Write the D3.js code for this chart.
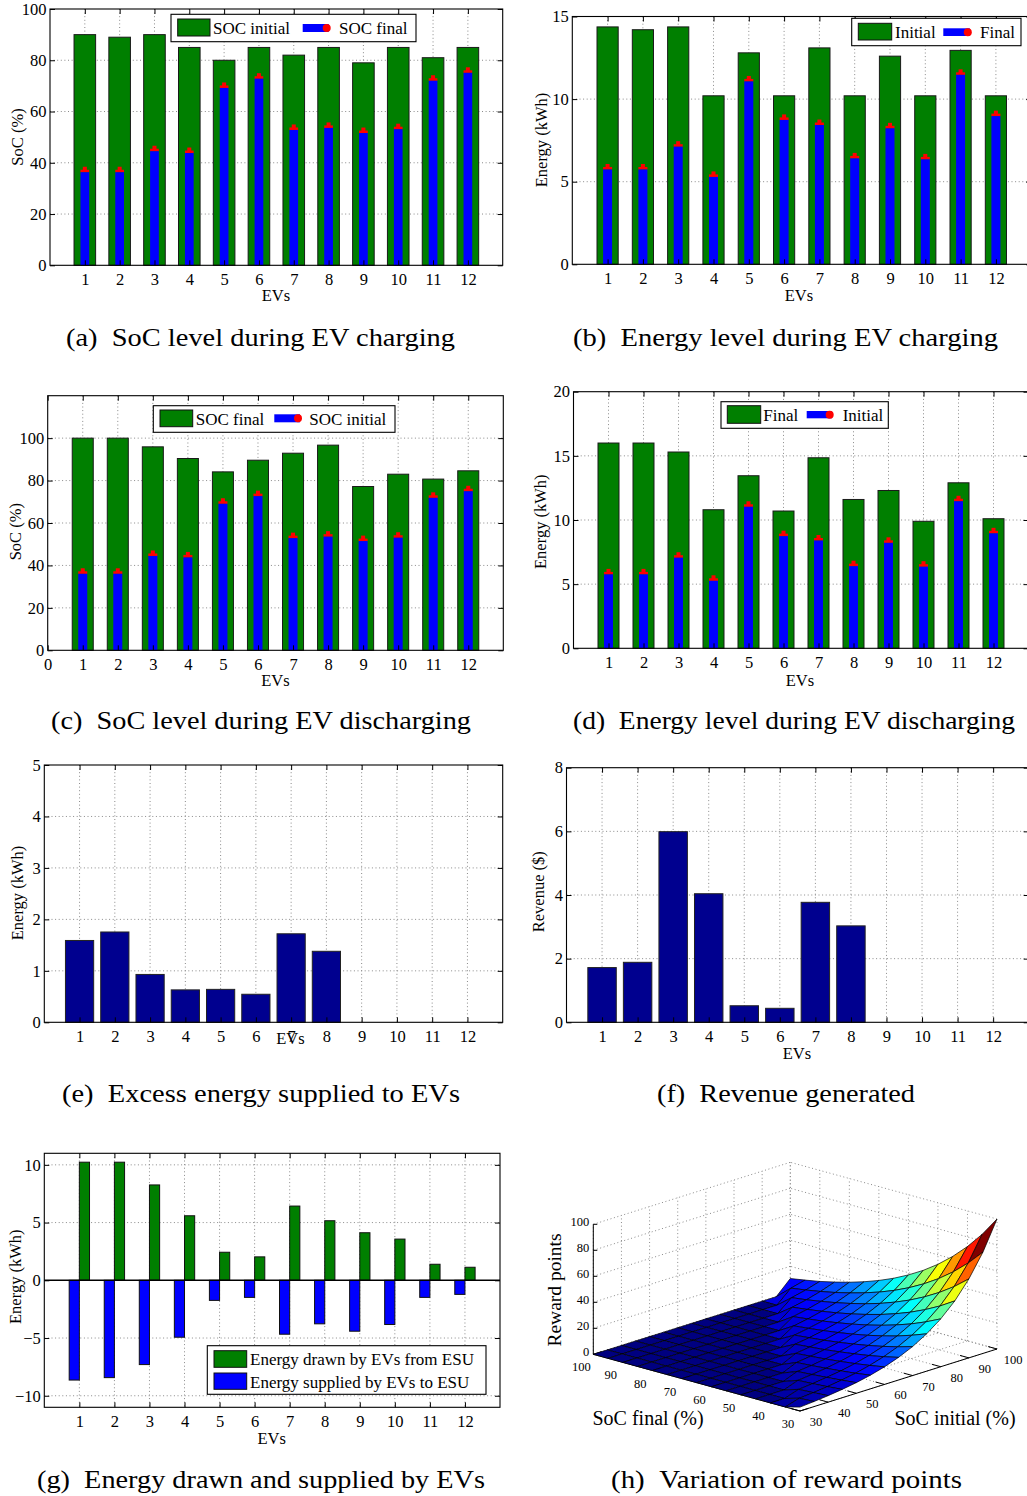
<!DOCTYPE html>
<html><head><meta charset="utf-8">
<script src="https://cdn.jsdelivr.net/npm/d3@7"></script>
<style>body{margin:0;background:#fff} svg text{font-family:'Liberation Serif','Times New Roman',serif}</style></head>
<body><script>
// ---------------- DATA ----------------
const evs = [1,2,3,4,5,6,7,8,9,10,11,12];
const xTicks = [1,2,3,4,5,6,7,8,9,10,11,12];
const xTicksWithZero = [0,1,2,3,4,5,6,7,8,9,10,11,12];
// (a) SoC during charging
const socInitialCharging = [90, 89, 90, 85, 80, 85, 82, 85, 79, 85, 81, 85];
const socFinalCharging   = [36.5, 36.5, 44.7, 44, 69.4, 73, 53, 53.8, 51.8, 53.3, 72.2, 75.3];
const socTicksA = [0,20,40,60,80,100];
// (b) Energy during charging
const energyInitialCharging = [14.37, 14.2, 14.37, 10.2, 12.8, 10.2, 13.1, 10.2, 12.6, 10.2, 12.95, 10.2];
const energyFinalCharging   = [5.77, 5.77, 7.15, 5.32, 11.1, 8.77, 8.46, 6.44, 8.26, 6.38, 11.5, 9.0];
const energyTicksB = [0,5,10,15];
// (c) SoC during discharging
const socFinalDischarging   = [100, 100, 95.9, 90.4, 84.1, 89.6, 92.9, 96.7, 77.2, 83.0, 80.7, 84.6];
const socInitialDischarging = [36.3, 36.3, 44.7, 44, 69.3, 72.9, 53.1, 53.8, 51.7, 53.3, 72.1, 75.2];
const socTicksC = [0,20,40,60,80,100];
// (d) Energy during discharging
const energyFinalDischarging   = [16.0, 16.0, 15.3, 10.8, 13.45, 10.7, 14.85, 11.6, 12.3, 9.9, 12.9, 10.1];
const energyInitialDischarging = [5.8, 5.8, 7.1, 5.3, 11.07, 8.78, 8.44, 6.44, 8.26, 6.4, 11.5, 9.0];
const energyTicksD = [0,5,10,15,20];
// (e) Excess energy
const excessEnergy = [1.59, 1.755, 0.93, 0.63, 0.64, 0.545, 1.72, 1.38, 0, 0, 0, 0];
const energyTicksE = [0,1,2,3,4,5];
// (f) Revenue
const revenue = [1.72, 1.885, 5.99, 4.04, 0.52, 0.44, 3.77, 3.03, 0, 0, 0, 0];
const revenueTicks = [0,2,4,6,8];
// (g) Energy drawn / supplied
const energyDrawn    = [10.23, 10.23, 8.26, 5.59, 2.43, 2.03, 6.43, 5.16, 4.12, 3.57, 1.39, 1.13];
const energySupplied = [-8.64, -8.43, -7.3, -4.93, -1.74, -1.48, -4.67, -3.77, -4.41, -3.83, -1.48, -1.22];
const energyTicksG = [-10,-5,0,5,10];
// (h) Reward points surface: rows = SoC final, cols = SoC initial
const rewardSocFinal   = [30,35,40,45,50,55,60,65,70,75,80,85,90,95,100];
const rewardSocInitial = [30,35,40,45,50,55,60,65,70,75,80,85,90,95,100];
const rewardTicks = [30,40,50,60,70,80,90,100];
const rewardZTicks = [0,20,40,60,80,100];
const rewardPoints = [
 [3.0,3.9,5.0,6.4,8.2,10.5,13.5,17.4,22.3,28.7,36.8,47.2,60.7,77.9,100.0],
 [0,3.3,4.2,5.4,7.0,8.9,11.5,14.8,19.0,24.5,31.4,40.2,51.7,66.4,85.2],
 [0,0,3.6,4.6,6.0,7.6,9.8,12.6,16.2,20.8,26.7,34.3,44.1,56.6,72.6],
 [0,0,0,4.0,5.1,6.5,8.4,10.8,13.8,17.8,22.8,29.2,37.6,48.2,61.9],
 [0,0,0,0,4.3,5.5,7.1,9.2,11.8,15.1,19.4,24.9,32.0,41.1,52.7],
 [0,0,0,0,0,4.7,6.1,7.8,10.0,12.9,16.5,21.2,27.3,35.0,44.9],
 [0,0,0,0,0,0,5.2,6.7,8.5,11.0,14.1,18.1,23.2,29.8,38.3],
 [0,0,0,0,0,0,0,5.7,7.3,9.4,12.0,15.4,19.8,25.4,32.6],
 [0,0,0,0,0,0,0,0,6.2,8.0,10.2,13.1,16.9,21.7,27.8],
 [0,0,0,0,0,0,0,0,0,6.8,8.7,11.2,14.4,18.5,23.7],
 [0,0,0,0,0,0,0,0,0,0,7.4,9.5,12.3,15.7,20.2],
 [0,0,0,0,0,0,0,0,0,0,0,8.1,10.4,13.4,17.2],
 [0,0,0,0,0,0,0,0,0,0,0,0,8.9,11.4,14.6],
 [0,0,0,0,0,0,0,0,0,0,0,0,0,9.7,12.5],
 [0,0,0,0,0,0,0,0,0,0,0,0,0,0,10.6]
];

// ---------------- STYLE ----------------
const FONT = "'Liberation Serif','Times New Roman',serif";
const GREEN = "#007f00", BLUE = "#0000ff", NAVY = "#00008f", RED = "#ff0000";
const GRID_STROKE = "#8a8a8a", GRID_DASH = "1,2.6";

const svg = d3.select("body").append("svg")
  .attr("width", 1027).attr("height", 1496)
  .style("background", "#fff")
  .attr("font-family", FONT);
svg.append("rect").attr("width",1027).attr("height",1496).attr("fill","#fff");

const fmt = d => d < 0 ? "\u2212" + Math.abs(d) : String(d);

function panel(o) {
  const x = d3.scaleLinear().domain([0, 13]).range([o.left, o.right]);
  const y = d3.scaleLinear().domain(o.yDomain).range([o.bottom, o.top]);
  const g = svg.append("g");
  const grid = g.append("g").attr("stroke", GRID_STROKE).attr("stroke-dasharray", GRID_DASH).attr("stroke-width", 1);
  grid.selectAll("line.h").data(o.yTicks.filter(t => t > o.yDomain[0] && t < o.yDomain[1] && !(o.zeroLine && t === 0)))
    .join("line").attr("class","h")
    .attr("x1", o.left).attr("x2", o.right).attr("y1", d => y(d)).attr("y2", d => y(d));
  grid.selectAll("line.v").data(o.xTicks.filter(t => t > 0))
    .join("line").attr("class","v")
    .attr("x1", d => x(d)).attr("x2", d => x(d)).attr("y1", o.top).attr("y2", o.bottom);
  const bars = g.append("g");
  const axes = g.append("g");
  return { x, y, g, bars, axes, o };
}

function finish(p) {
  const { x, y, axes, o } = p;
  if (o.zeroLine) {
    axes.append("line").attr("x1", o.left).attr("x2", o.right)
      .attr("y1", y(0)).attr("y2", y(0)).attr("stroke", "#000").attr("stroke-width", 1.6);
  }
  const bx = axes.append("g").attr("transform", `translate(0,${o.bottom})`)
    .call(d3.axisBottom(x).tickValues(o.xTicks).tickSizeInner(-5).tickSizeOuter(0).tickPadding(7.5).tickFormat(fmt));
  const ly = axes.append("g").attr("transform", `translate(${o.left},0)`)
    .call(d3.axisLeft(y).tickValues(o.yTicks).tickSizeInner(-5).tickSizeOuter(0).tickPadding(3.5).tickFormat(fmt));
  const tx = axes.append("g").attr("transform", `translate(0,${o.top})`)
    .call(d3.axisTop(x).tickValues(o.xTicks).tickSizeInner(-5).tickSizeOuter(0).tickFormat(""));
  const ry = axes.append("g").attr("transform", `translate(${o.right},0)`)
    .call(d3.axisRight(y).tickValues(o.yTicks).tickSizeInner(-5).tickSizeOuter(0).tickFormat(""));
  [bx, ly, tx, ry].forEach(a => {
    a.select(".domain").remove();
    a.selectAll("text").attr("font-family", FONT).attr("font-size", 16.5).attr("fill", "#000");
    a.selectAll("line").attr("stroke", "#000");
  });
  axes.append("rect").attr("x", o.left).attr("y", o.top)
    .attr("width", o.right - o.left).attr("height", o.bottom - o.top)
    .attr("fill", "none").attr("stroke", "#000").attr("stroke-width", 1.1);
  axes.append("text").attr("transform", `translate(${o.ylab[0]},${o.ylab[1]}) rotate(-90)`)
    .attr("text-anchor", "middle").attr("dominant-baseline", "central")
    .attr("font-size", 16.5).text(o.ylabel);
  axes.append("text").attr("x", o.xlab[0]).attr("y", o.xlab[1])
    .attr("text-anchor", "middle").attr("font-size", 16.5).text("EVs");
}

function groupedPanel(o, big, small) {
  const p = panel(o);
  const { x, y, bars } = p;
  const wBig = x(o.bigW) - x(0), wSmall = x(o.smallW) - x(0);
  bars.selectAll("rect.big").data(evs).join("rect").attr("class", "big")
    .attr("x", (d) => x(d) - wBig / 2).attr("width", wBig)
    .attr("y", (d, i) => y(big[i])).attr("height", (d, i) => y(0) - y(big[i]))
    .attr("fill", GREEN).attr("stroke", "#1a1a1a").attr("stroke-width", 1);
  bars.selectAll("rect.redcap").data(evs).join("rect").attr("class", "redcap")
    .attr("x", (d) => x(d) - wSmall / 2).attr("width", wSmall)
    .attr("y", (d, i) => y(small[i]) - 2).attr("height", 2.6).attr("fill", RED);
  bars.selectAll("rect.redbump").data(evs).join("rect").attr("class", "redbump")
    .attr("x", (d) => x(d) - 2).attr("width", 4)
    .attr("y", (d, i) => y(small[i]) - 5).attr("height", 4).attr("fill", RED);
  bars.selectAll("rect.small").data(evs).join("rect").attr("class", "small")
    .attr("x", (d) => x(d) - wSmall / 2).attr("width", wSmall)
    .attr("y", (d, i) => y(small[i]) + 0.5).attr("height", (d, i) => y(0) - y(small[i]) - 0.5)
    .attr("fill", BLUE);
  finish(p);
  return p;
}

function singlePanel(o, vals) {
  const p = panel(o);
  const { x, y, bars } = p;
  const w = x(0.8) - x(0);
  bars.selectAll("rect").data(evs.filter((d, i) => vals[i] > 0)).join("rect")
    .attr("x", d => x(d) - w / 2).attr("width", w)
    .attr("y", d => y(vals[d - 1])).attr("height", d => y(0) - y(vals[d - 1]))
    .attr("fill", NAVY).attr("stroke", "#222").attr("stroke-width", 1);
  finish(p);
  return p;
}

function legend(b, items) {
  const g = svg.append("g");
  g.append("rect").attr("x", b[0]).attr("y", b[1]).attr("width", b[2]).attr("height", b[3])
    .attr("fill", "#fff").attr("stroke", "#000").attr("stroke-width", 1.1);
  items.forEach(it => {
    if (it.kind === "green" || it.kind === "blueRect") {
      g.append("rect").attr("x", it.sx).attr("y", it.sy).attr("width", it.sw).attr("height", it.sh)
        .attr("fill", it.kind === "green" ? GREEN : BLUE).attr("stroke", "#111").attr("stroke-width", 1);
    } else {
      g.append("rect").attr("x", it.sx).attr("y", it.sy).attr("width", it.sw).attr("height", it.sh).attr("fill", BLUE);
      g.append("circle").attr("cx", it.sx + it.sw - 2).attr("cy", it.sy + it.sh / 2).attr("r", 4).attr("fill", RED);
    }
    g.append("text").attr("x", it.tx).attr("y", it.ty).attr("font-size", it.fs || 17)
      .attr("dominant-baseline", "central").text(it.label);
  });
}

// (a)
groupedPanel({ left: 50, right: 502.7, top: 9, bottom: 265.3, yDomain: [0, 100], yTicks: socTicksA, xTicks,
  bigW: 0.62, smallW: 0.25, ylabel: "SoC (%)", ylab: [17, 137], xlab: [276, 301] },
  socInitialCharging, socFinalCharging);
legend([171, 14.3, 245, 27.4], [
  { kind: "green", sx: 177.7, sy: 19, sw: 32.3, sh: 17, tx: 213, ty: 28.5, label: "SOC initial" },
  { kind: "blueDot", sx: 302.7, sy: 24, sw: 26, sh: 8, tx: 339, ty: 28.5, label: "SOC final" }]);

// (b)
groupedPanel({ left: 572.3, right: 1031.2, top: 16.5, bottom: 264.3, yDomain: [0, 15], yTicks: energyTicksB, xTicks,
  bigW: 0.6, smallW: 0.255, ylabel: "Energy (kWh)", ylab: [541, 140], xlab: [799, 301] },
  energyInitialCharging, energyFinalCharging);
legend([851.7, 18.3, 169.3, 27.4], [
  { kind: "green", sx: 858.3, sy: 23.3, sw: 33.4, sh: 16.7, tx: 895, ty: 32.5, label: "Initial" },
  { kind: "blueDot", sx: 943.3, sy: 28.3, sw: 26.5, sh: 7.7, tx: 980, ty: 32.5, label: "Final" }]);

// (c)
groupedPanel({ left: 47.7, right: 503.3, top: 395.7, bottom: 650.3, yDomain: [0, 120], yTicks: socTicksC, xTicks: xTicksWithZero,
  bigW: 0.6, smallW: 0.257, ylabel: "SoC (%)", ylab: [15, 531.7], xlab: [275.5, 686] },
  socFinalDischarging, socInitialDischarging);
legend([153.3, 405.7, 241.7, 26.6], [
  { kind: "green", sx: 160, sy: 410, sw: 32.7, sh: 16.7, tx: 195.7, ty: 419.5, label: "SOC final" },
  { kind: "blueDot", sx: 274.3, sy: 414.3, sw: 25.7, sh: 8, tx: 309.3, ty: 419.5, label: "SOC initial" }]);

// (d)
groupedPanel({ left: 573.5, right: 1028.5, top: 391.7, bottom: 648.3, yDomain: [0, 20], yTicks: energyTicksD, xTicks,
  bigW: 0.6, smallW: 0.255, ylabel: "Energy (kWh)", ylab: [540, 521.7], xlab: [800, 686] },
  energyFinalDischarging, energyInitialDischarging);
legend([721, 401.7, 167.3, 26.6], [
  { kind: "green", sx: 727.3, sy: 405.7, sw: 33.4, sh: 17.6, tx: 763.3, ty: 415, label: "Final" },
  { kind: "blueDot", sx: 806.7, sy: 411, sw: 25, sh: 7.3, tx: 842.7, ty: 415, label: "Initial" }]);

// (e)
singlePanel({ left: 44.3, right: 502.7, top: 765, bottom: 1022.3, yDomain: [0, 5], yTicks: energyTicksE, xTicks,
  ylabel: "Energy (kWh)", ylab: [17.5, 893], xlab: [290.5, 1044] }, excessEnergy);

// (f)
singlePanel({ left: 566.5, right: 1028.7, top: 767.7, bottom: 1022.3, yDomain: [0, 8], yTicks: revenueTicks, xTicks,
  ylabel: "Revenue ($)", ylab: [538.5, 891.7], xlab: [797, 1059] }, revenue);

// (g)
(function () {
  const o = { left: 44.3, right: 500, top: 1153.3, bottom: 1407.3, yDomain: [-11, 11], yTicks: energyTicksG, xTicks,
    zeroLine: true, ylabel: "Energy (kWh)", ylab: [15, 1276.7], xlab: [271.7, 1444] };
  const p = panel(o);
  const { x, y, bars } = p;
  const w = x(0.29) - x(0), off = 0.145;
  bars.selectAll("rect.dr").data(evs).join("rect").attr("class", "dr")
    .attr("x", d => x(d + off) - w / 2).attr("width", w)
    .attr("y", (d, i) => y(energyDrawn[i])).attr("height", (d, i) => y(0) - y(energyDrawn[i]))
    .attr("fill", GREEN).attr("stroke", "#111").attr("stroke-width", 1);
  bars.selectAll("rect.su").data(evs).join("rect").attr("class", "su")
    .attr("x", d => x(d - off) - w / 2).attr("width", w)
    .attr("y", y(0)).attr("height", (d, i) => y(energySupplied[i]) - y(0))
    .attr("fill", BLUE).attr("stroke", "#111").attr("stroke-width", 1);
  finish(p);
  legend([207.3, 1345.7, 278.7, 48.6], [
    { kind: "green", sx: 214, sy: 1350.7, sw: 32.7, sh: 16.6, tx: 250, ty: 1359.5, label: "Energy drawn by EVs from ESU" },
    { kind: "blueRect", sx: 214, sy: 1373, sw: 32.7, sh: 16.3, tx: 250, ty: 1382, label: "Energy supplied by EVs to ESU" }]);
})();

// (h) 3D surface
(function () {
  const Lc = [593.3, 1354.3], Bc = [800, 1411], Rc = [997, 1349];
  const uS = d3.scaleLinear().domain([30, 100]).range([0, 1]);
  const zPx = d3.scaleLinear().domain([0, 100]).range([0, 130]);
  const jet = d3.scaleLinear().domain([0, 12.5, 37.5, 62.5, 87.5, 100])
    .range(["#000080", "#0000ff", "#00ffff", "#ffff00", "#ff0000", "#800000"]);
  const P = (f, i, z) => {
    const u = uS(f), v = uS(i);
    return [Bc[0] + u * (Lc[0] - Bc[0]) + v * (Rc[0] - Bc[0]),
            Bc[1] + u * (Lc[1] - Bc[1]) + v * (Rc[1] - Bc[1]) - zPx(z)];
  };
  const g = svg.append("g");
  const grid = g.append("g").attr("stroke", GRID_STROKE).attr("stroke-dasharray", GRID_DASH).attr("stroke-width", 1).attr("fill", "none");
  const seg = (a, b) => grid.append("line").attr("x1", a[0]).attr("y1", a[1]).attr("x2", b[0]).attr("y2", b[1]);
  rewardTicks.forEach(t => {
    seg(P(100, t, 0), P(100, t, 100));
    seg(P(t, 100, 0), P(t, 100, 100));
    seg(P(t, 30, 0), P(t, 100, 0));
    seg(P(30, t, 0), P(100, t, 0));
  });
  rewardZTicks.forEach(z => {
    seg(P(100, 30, z), P(100, 100, z));
    seg(P(30, 100, z), P(100, 100, z));
  });
  const ax = g.append("g").attr("stroke", "#000").attr("stroke-width", 1);
  const line = (a, b) => ax.append("line").attr("x1", a[0]).attr("y1", a[1]).attr("x2", b[0]).attr("y2", b[1]);
  line(P(100, 30, 0), P(100, 30, 100));
  line(P(100, 30, 0), P(30, 30, 0));
  line(P(30, 30, 0), P(30, 100, 0));
  rewardZTicks.forEach(z => { const a = P(100, 30, z); line(a, [a[0] + 4, a[1]]); });
  rewardTicks.forEach(t => {
    line(P(t, 30, 0), P(t, 33, 0));
    line(P(30, t, 0), P(33, t, 0));
  });
  const lab = g.append("g").attr("font-size", 12.5).attr("fill", "#000");
  rewardZTicks.forEach(z => { const a = P(100, 30, z);
    lab.append("text").attr("x", a[0] - 4).attr("y", a[1] - 2).attr("text-anchor", "end").attr("dominant-baseline", "central").text(z); });
  rewardTicks.forEach(t => {
    const a = P(t, 30, 0);
    lab.append("text").attr("x", a[0] - 12).attr("y", a[1] + 13).attr("text-anchor", "middle").attr("dominant-baseline", "central").text(t);
    const b = P(30, t, 0);
    lab.append("text").attr("x", b[0] + 16).attr("y", b[1] + 11).attr("text-anchor", "middle").attr("dominant-baseline", "central").text(t);
  });
  const cells = [];
  for (let r = 0; r < rewardSocFinal.length - 1; r++) {
    for (let c = 0; c < rewardSocInitial.length - 1; c++) {
      const f0 = rewardSocFinal[r], f1 = rewardSocFinal[r + 1], i0 = rewardSocInitial[c], i1 = rewardSocInitial[c + 1];
      const Z = rewardPoints;
      cells.push({ pts: [P(f0, i0, Z[r][c]), P(f1, i0, Z[r + 1][c]), P(f1, i1, Z[r + 1][c + 1]), P(f0, i1, Z[r][c + 1])],
        depth: r + c, color: jet(Z[r][c + 1]) });
    }
  }
  cells.sort((a, b) => b.depth - a.depth);
  g.append("g").selectAll("path").data(cells).join("path")
    .attr("d", d => "M" + d.pts.map(p => p.join(",")).join("L") + "Z")
    .attr("fill", d => d.color).attr("stroke", "#000").attr("stroke-width", 0.7).attr("stroke-linejoin", "round");
  g.append("text").attr("transform", "translate(554,1290) rotate(-90)").attr("text-anchor", "middle")
    .attr("dominant-baseline", "central").attr("font-size", 19.5).text("Reward points");
  g.append("text").attr("x", 648).attr("y", 1425).attr("text-anchor", "middle").attr("font-size", 20).text("SoC final (%)");
  g.append("text").attr("x", 955).attr("y", 1425).attr("text-anchor", "middle").attr("font-size", 20).text("SoC initial (%)");
})();

// captions
const captions = [
  { t: "(a)\u2002SoC level during EV charging", x: 66, w: 389, y: 346 },
  { t: "(b)\u2002Energy level during EV charging", x: 573, w: 425, y: 346 },
  { t: "(c)\u2002SoC level during EV discharging", x: 51, w: 420, y: 729 },
  { t: "(d)\u2002Energy level during EV discharging", x: 573, w: 442, y: 729 },
  { t: "(e)\u2002Excess energy supplied to EVs", x: 62, w: 398, y: 1102 },
  { t: "(f)\u2002Revenue generated", x: 657, w: 258, y: 1102 },
  { t: "(g)\u2002Energy drawn and supplied by EVs", x: 37, w: 448, y: 1488 },
  { t: "(h)\u2002Variation of reward points", x: 611, w: 351, y: 1488 }
];
svg.append("g").selectAll("text").data(captions).join("text")
  .attr("x", d => d.x).attr("y", d => d.y).attr("font-size", 25)
  .attr("textLength", d => d.w).attr("lengthAdjust", "spacingAndGlyphs")
  .text(d => d.t);
</script></body></html>
